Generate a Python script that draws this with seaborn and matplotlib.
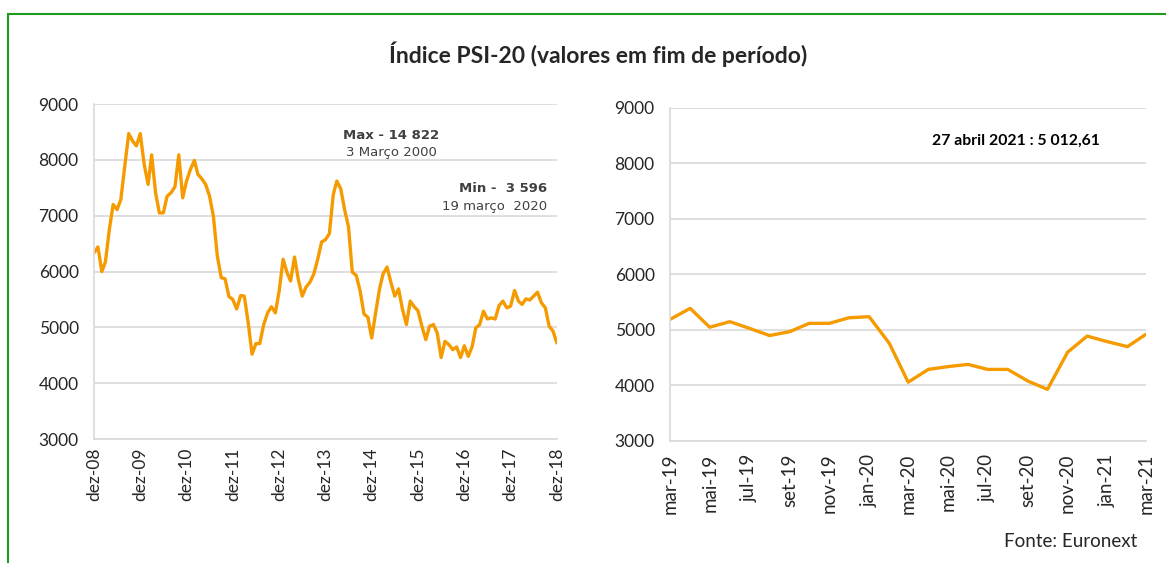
import numpy as np
import pandas as pd
import matplotlib
matplotlib.use('Agg')
import matplotlib.pyplot as plt
import matplotlib.patches as mpatches
import seaborn as sns

# PSI-20, fim de mes, dez-08 a dez-18
psi_hist = [6335, 6440, 6000, 6170, 6750, 7200, 7110, 7290, 7890, 8470,
            8340, 8250, 8470, 7920, 7560, 8090, 7410, 7050, 7050, 7350,
            7410, 7520, 8090, 7320, 7620, 7830, 7990, 7740, 7660, 7560,
            7350, 6990, 6280, 5890, 5870, 5550, 5500, 5330, 5570, 5560,
            5080, 4520, 4710, 4710, 5050, 5260, 5370, 5260, 5650, 6220,
            5980, 5830, 6260, 5860, 5560, 5720, 5810, 5960, 6220, 6530,
            6570, 6680, 7380, 7620, 7480, 7110, 6800, 5990, 5930, 5650,
            5240, 5180, 4810, 5260, 5690, 5960, 6080, 5810, 5560, 5690,
            5320, 5050, 5470, 5370, 5300, 5020, 4780, 5020, 5050, 4900,
            4460, 4750, 4690, 4600, 4650, 4460, 4670, 4480, 4660, 4990,
            5050, 5290, 5150, 5170, 5150, 5390, 5470, 5350, 5380, 5660,
            5470, 5410, 5510, 5490, 5560, 5630, 5440, 5350, 5020, 4930,
            4720]

# PSI-20, fim de mes, mar-19 a mar-21
psi_rec = [5190, 5390, 5050, 5150, 5030, 4900, 4970, 5120, 5120, 5220,
           5240, 4760, 4060, 4290, 4340, 4380, 4290, 4290, 4080, 3930,
           4600, 4890, 4790, 4700, 4920]

meses = ['jan', 'fev', 'mar', 'abr', 'mai', 'jun', 'jul', 'ago', 'set', 'out', 'nov', 'dez']

titulo = 'Índice PSI-20 (valores em fim de período)'
nota_max = ('Max - 14 822', '3 Março 2000')
nota_min = ('Min -  3 596', '19 março  2020')
nota_ultimo = '27 abril 2021 : 5 012,61'
fonte = 'Fonte: Euronext'

df1 = pd.DataFrame({'data': pd.date_range('2008-12-01', periods=len(psi_hist), freq='MS'),
                    'valor': psi_hist})
df2 = pd.DataFrame({'data': pd.date_range('2019-03-01', periods=len(psi_rec), freq='MS'),
                    'valor': psi_rec})

def rotulo(d):
    return f"{meses[d.month - 1]}-{d:%y}"

sns.set_style('white')
plt.rcParams['font.family'] = ['Lato', 'DejaVu Sans']

laranja = '#f59b00'
cinza = '#d9d9d9'

fig = plt.figure(figsize=(11.66, 5.63), dpi=100)
ax1 = fig.add_axes([0.0806, 0.2202, 0.397, 0.595])
ax2 = fig.add_axes([0.5746, 0.2167, 0.408, 0.5915])

sns.lineplot(data=df1, x='data', y='valor', ax=ax1, color=laranja, linewidth=2.4)
sns.lineplot(data=df2, x='data', y='valor', ax=ax2, color=laranja, linewidth=2.4)

for ax, df in [(ax1, df1), (ax2, df2)]:
    ax.set_ylim(3000, 9000)
    ax.set_yticks(range(3000, 9001, 1000))
    ax.set_xlim(df['data'].iloc[0], df['data'].iloc[-1])
    ax.set_xlabel('')
    ax.set_ylabel('')
    ax.grid(axis='y', color=cinza, linewidth=1.2)
    ax.set_axisbelow(True)
    for s in ['top', 'right']:
        ax.spines[s].set_visible(False)
    for s in ['left', 'bottom']:
        ax.spines[s].set_color(cinza)
        ax.spines[s].set_linewidth(1.2)
    ax.tick_params(axis='y', length=6, color=cinza, width=1.2, pad=5, labelsize=12.5)

t1 = df1['data'][df1['data'].dt.month == 12]
ax1.set_xticks(t1)
ax1.set_xticklabels([rotulo(d) for d in t1], rotation=90, fontsize=12.5)
ax1.tick_params(axis='x', length=0, pad=6)

t2 = df2['data'].iloc[::2]
ax2.set_xticks(t2)
ax2.set_xticklabels([rotulo(d) for d in t2], rotation=90, fontsize=13.5)
ax2.tick_params(axis='x', length=5, color=cinza, width=1.2, pad=4)

fig.text(0.513, 0.904, titulo, ha='center', va='center', fontsize=16.5, fontweight='bold')

cor_nota = '#404040'
ax1.text(0.642, 0.906, nota_max[0], transform=ax1.transAxes, ha='center', va='center',
         family='DejaVu Sans', fontweight='bold', fontsize=9.5, color=cor_nota)
ax1.text(0.642, 0.855, nota_max[1], transform=ax1.transAxes, ha='center', va='center',
         family='DejaVu Sans', fontsize=9.5, color=cor_nota)
ax1.text(0.978, 0.748, nota_min[0], transform=ax1.transAxes, ha='right', va='center',
         family='DejaVu Sans', fontweight='bold', fontsize=9.5, color=cor_nota)
ax1.text(0.978, 0.693, nota_min[1], transform=ax1.transAxes, ha='right', va='center',
         family='DejaVu Sans', fontsize=9.5, color=cor_nota)

ax2.text(0.903, 0.9, nota_ultimo, transform=ax2.transAxes, ha='right', va='center',
         fontsize=11.3, fontweight='bold', color='black')

fig.text(0.975, 0.039, fonte, ha='right', va='center', fontsize=13.5)

# moldura verde
fig.add_artist(mpatches.Rectangle((8 / 1166, -0.1), 1.2, 1.1 - 14 / 563,
                                  transform=fig.transFigure, fill=False,
                                  edgecolor='#1f9a1f', linewidth=1.5))

fig.savefig('out.png', dpi=100)
